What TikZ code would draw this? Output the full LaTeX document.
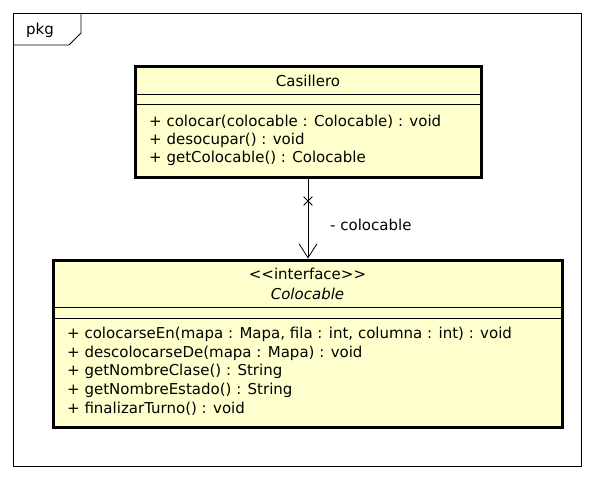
\documentclass[tikz,border=0pt]{standalone}
\usepackage{fontspec}
\setmainfont{DejaVu Sans}
\usepackage{tikz}
\definecolor{cy}{RGB}{255, 255, 206}
\usetikzlibrary{positioning}
\usetikzlibrary{shapes.misc}
\usetikzlibrary{arrows.meta}

\begin{document}
\begin{tikzpicture}
[every node/.style={inner sep=0pt, font=\fontsize{15}{17}\selectfont}]
\useasboundingbox (0pt, 0pt) rectangle (596pt, -480pt);
% package frame
\draw [line width=0.8pt, color=black] (13pt, -13pt) rectangle (581pt, -466pt);
\draw [line width=0.8pt, color=black] (13pt, -45pt) -- (69pt, -45pt) -- (81pt, -33pt) -- (81pt, -13pt);
\node (pkg) [anchor=west] at (26pt, -30pt) {pkg};
% classes
\node (casillero) [rectangle, minimum width=346pt, minimum height=111pt, fill=cy, line width=3pt, draw=black] at (308pt, -121.5pt) {};
\node (colocable) [rectangle, minimum width=509pt, minimum height=167pt, fill=cy, line width=3pt, draw=black] at (307.5pt, -343.5pt) {};
\draw [line width=0.8, color=black] (135pt, -94pt) to (481pt, -94pt);
\draw [line width=0.8, color=black] (135pt, -104pt) to (481pt, -104pt);
\draw [line width=0.8, color=black] (53pt, -307pt) to (562pt, -307pt);
\draw [line width=0.8, color=black] (53pt, -318pt) to (562pt, -318pt);
\node (c0) at (308pt, -80.5pt) {Casillero};
\node (c1) [anchor=west] at (149pt, -121.5pt) {+ colocar(colocable : Colocable) : void};
\node (c2) [anchor=west] at (149pt, -140pt) {+ desocupar() : void};
\node (c3) [anchor=west] at (149pt, -158.5pt) {+ getColocable() : Colocable};
\node (i0) at (307.5pt, -274pt) {<\kern0pt<interface>\kern0pt>};
\node (i1) at (307.5pt, -294pt) {\itshape Colocable};
\node (i2) [anchor=west] at (67pt, -334.5pt) {+ colocarseEn(mapa : Mapa, fila : int, columna : int) : void};
\node (i3) [anchor=west] at (67pt, -353pt) {+ descolocarseDe(mapa : Mapa) : void};
\node (i4) [anchor=west] at (67pt, -371.5pt) {+ getNombreClase() : String};
\node (i5) [anchor=west] at (67pt, -390pt) {+ getNombreEstado() : String};
\node (i6) [anchor=west] at (67pt, -408.5pt) {+ finalizarTurno() : void};
% association
\node (nav) [cross out, draw=black, line width=0.8pt, minimum size=8pt] at (308pt, -201pt) {};
\draw [line width=0.8, color=black, -{Straight Barb[length=14pt, width=18pt, line width=0.8pt]}] (casillero.south) to (colocable.north -| casillero.south);
\node (role) [anchor=west] at (330pt, -225pt) {- colocable};
\end{tikzpicture}
\end{document}
